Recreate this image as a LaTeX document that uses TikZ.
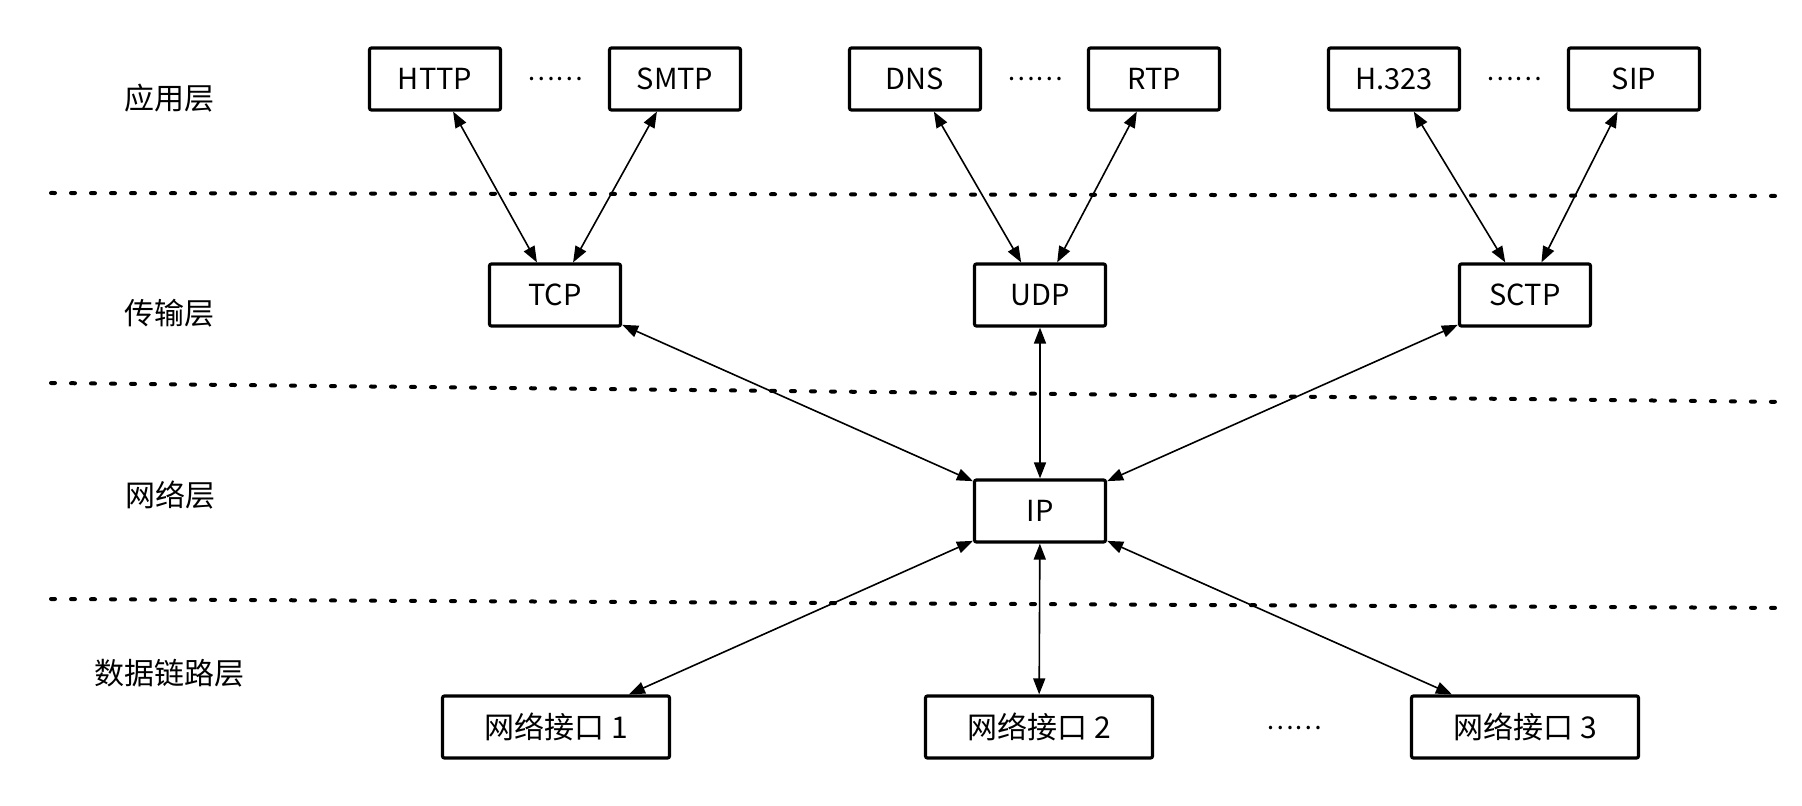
\documentclass[tikz,border=0pt]{standalone}
\usepackage{fontspec}
\setmainfont{Noto Sans CJK SC}
\usetikzlibrary{arrows.meta}
\tikzstyle{box}=[draw,line width=1.6pt,rounded corners=1pt,minimum width=65.5pt,minimum height=31pt,inner sep=0pt,font=\fontsize{14.5}{17}\selectfont]
\tikzstyle{wide box} = [box, minimum width=113.5pt, font=\fontsize{15}{18}\selectfont]
\tikzstyle{layer} = [font=\fontsize{15}{18}\selectfont]
\tikzstyle{more} = [font=\fontsize{13}{16}\selectfont]
\tikzstyle{link} = [draw,line width=0.8pt,{Triangle[length=8pt,width=6pt]}-{Triangle[length=8pt,width=6pt]}]
\tikzstyle{boundary} = [draw,line width=2pt,line cap=round,dash pattern=on 2pt off 8pt]

\begin{document}
\begin{tikzpicture}[x=0.5pt,y=-0.5pt]
  \useasboundingbox (0,0) rectangle (1802,806);
    % Layer names on the left
    \foreach \pos/\name/\text in {{(169,98)/app/应用层},{(169,313)/trans/传输层},
                                  {(170,495)/net/网络层},{(169,673)/link/数据链路层}}
        \node[layer] (\name) at \pos {\text};
    % Dotted boundaries between the layers
    \foreach \name/\ya/\yb in {s1/193/196,s2/383/402,s3/599/608} {
        \coordinate (\name w) at (51,\ya);
        \coordinate (\name e) at (1790,\yb);
        \path[boundary] (\name w) -- (\name e);
    }
    % Protocol boxes
    \foreach \pos/\name/\text in {{(435,79)/HTTP/HTTP},{(675,79)/SMTP/SMTP},
                                  {(915,79)/DNS/DNS},{(1154,79)/RTP/RTP},
                                  {(1394,79)/H323/H.323},{(1634,79)/SIP/SIP},
                                  {(555,295)/TCP/TCP},{(1040,295)/UDP/UDP},
                                  {(1525,295)/SCTP/SCTP},{(1040,511)/IP/IP}}
        \node[box] (\name) at \pos {\text};
    % Network interfaces
    \foreach \pos/\name/\text in {{(556,727)/if1/网络接口 1},{(1039,727)/if2/网络接口 2},
                                  {(1525,727)/if3/网络接口 3}}
        \node[wide box] (\name) at \pos {\text};
    % Ellipses between the boxes
    \foreach \pos/\name in {{(555,79)/m1},{(1035,79)/m2},{(1514,79)/m3},{(1294,728)/m4}}
        \node[more] (\name) at \pos {……};
    % Connect the boxes
    \foreach \source/ \dest in {
      HTTP/TCP,SMTP/TCP,DNS/UDP,RTP/UDP,H323/SCTP,SIP/SCTP,
      TCP/IP,UDP/IP,SCTP/IP,
      IP/if1,IP/if2,IP/if3}
        \path[link] (\source) -- (\dest);
\end{tikzpicture}
\end{document}
